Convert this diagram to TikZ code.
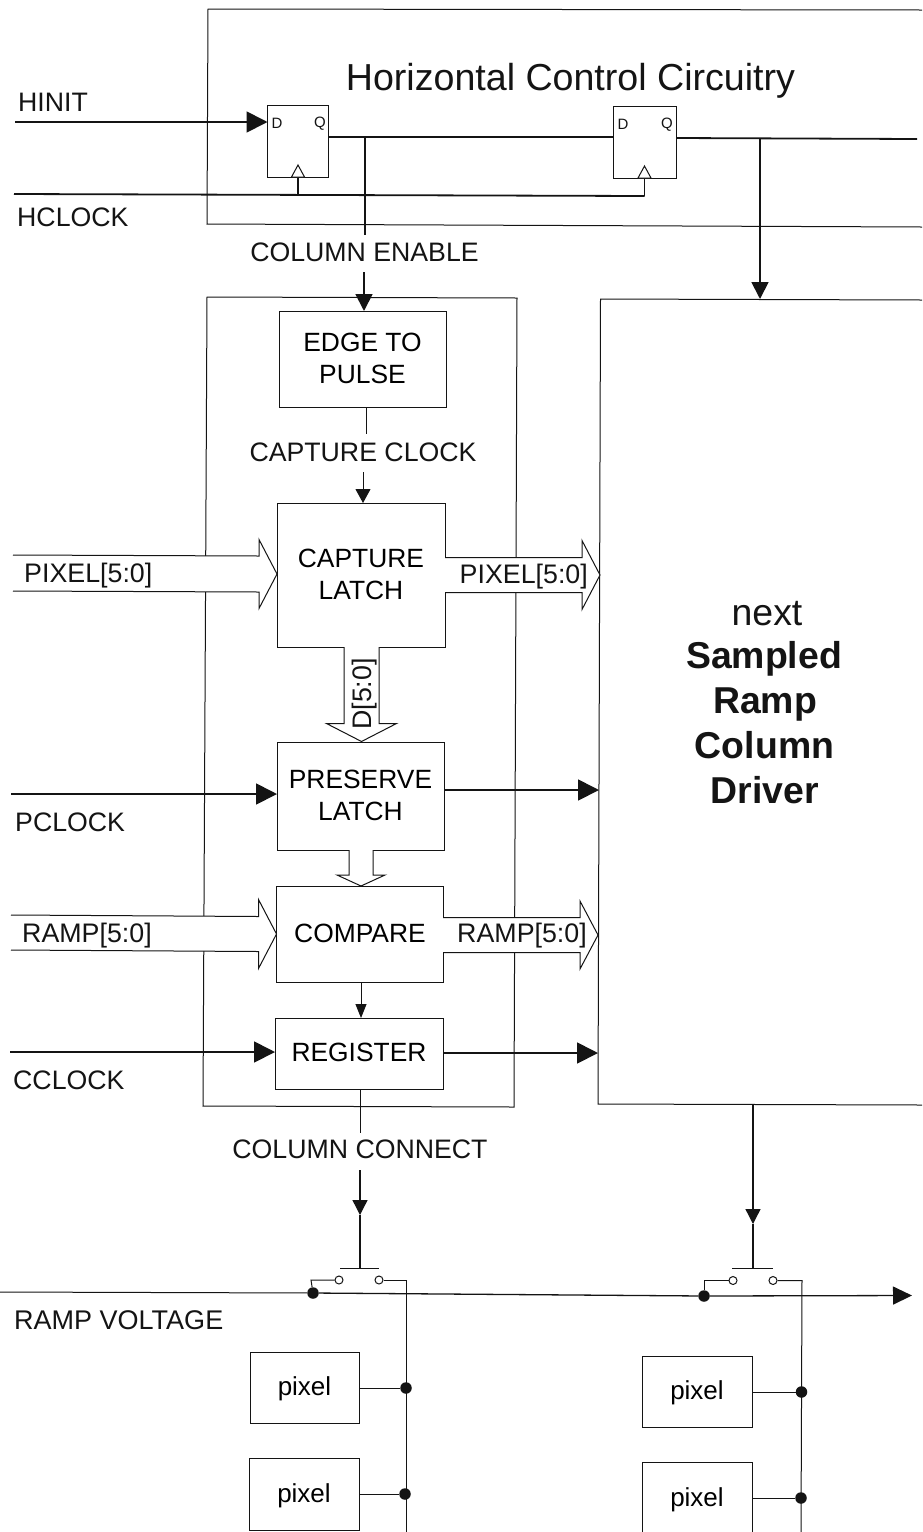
\documentclass[tikz,border=0pt]{standalone}
\usepackage{fontspec}
\setmainfont{Liberation Sans}
\usetikzlibrary{arrows.meta,calc}
\definecolor{ink}{HTML}{141414}
\tikzset{
  thin line/.style={draw=ink,line width=1pt},
  mid line/.style={draw=ink,line width=1.3pt},
  thick line/.style={draw=ink,line width=1.8pt},
  bigtip/.style={-{Triangle[length=21pt,width=21pt]}},
  midtip/.style={-{Triangle[length=17pt,width=17pt]}},
  lowtip/.style={-{Triangle[length=15pt,width=15pt]}},
  endtip/.style={-{Triangle[length=19pt,width=18pt]}},
  capturetip/.style={-{Triangle[length=14pt,width=15pt]}},
  regtip/.style={-{Triangle[length=14pt,width=11pt]}},
  block/.style={draw=ink,line width=1pt,fill=white,rectangle,inner sep=0pt,outer sep=0pt,align=center,font=\fontsize{26.4}{32}\selectfont},
  lab/.style={inner sep=0pt,font=\fontsize{26.7}{32}\selectfont,text=ink},
  widelab/.style={inner sep=0pt,font=\fontsize{27}{32}\selectfont,text=ink},
  buslab/.style={inner sep=0pt,font=\fontsize{26.8}{32}\selectfont,text=ink},
  drvlab/.style={inner sep=0pt,anchor=base,font=\fontsize{37.4}{44}\selectfont,text=ink},
  ffpin/.style={inner sep=0pt,font=\fontsize{15}{16}\selectfont,text=ink},
  bus/.style={draw=ink,line width=1pt,fill=white,line join=miter},
  solder/.style={circle,fill=ink,minimum size=11.5pt,inner sep=0pt},
  contact/.style={circle,draw=ink,line width=1pt,fill=white,minimum size=8pt,inner sep=0pt},
}
\newcommand{\pixtext}{\fontsize{26}{32}\selectfont\raisebox{0pt}[16pt][0pt]{pixel}}
% horizontal bus: tail, tip, half shaft, half head, head length
\newcommand{\hbus}[5]{\path[bus] let \p1=(#1),\p2=(#2) in
  (\x1,\y1+#3pt) -- (\x2-#5pt,\y2+#3pt) -- (\x2-#5pt,\y2+#4pt) -- (\x2,\y2) --
  (\x2-#5pt,\y2-#4pt) -- (\x2-#5pt,\y2-#3pt) -- (\x1,\y1-#3pt);}
% vertical bus going down
\newcommand{\vbus}[5]{\path[bus] let \p1=(#1),\p2=(#2) in
  (\x1-#3pt,\y1) -- (\x2-#3pt,\y2+#5pt) -- (\x2-#4pt,\y2+#5pt) -- (\x2,\y2) --
  (\x2+#4pt,\y2+#5pt) -- (\x2+#3pt,\y2+#5pt) -- (\x1+#3pt,\y1);}
\begin{document}
\begin{tikzpicture}[x=1pt,y=-1pt]
\useasboundingbox (0,0) rectangle (922,1532);
\fill[white] (0,0) rectangle (922,1532);

% large frames
\coordinate (hcR1) at (922,10);
\coordinate (hcL1) at (208,9);
\coordinate (hcL2) at (207,224);
\coordinate (hcR2) at (922,227);
\draw[thin line] (hcR1) -- (hcL1) -- (hcL2) -- (hcR2);
\coordinate (colTL) at (207,297);
\coordinate (colTR) at (517,298);
\coordinate (colBR) at (514,1107);
\coordinate (colBL) at (203,1106);
\draw[thin line] (colTL) -- (colTR) -- (colBR) -- (colBL) -- cycle;
\coordinate (srTR) at (922,300);
\coordinate (srTL) at (600.5,299);
\coordinate (srBL) at (598,1104);
\coordinate (srBR) at (922,1105);
\draw[thin line] (srTR) -- (srTL) -- (srBL) -- (srBR);

% title
\node[lab,font=\fontsize{37.6}{44}\selectfont] (title) at (570.5,80.5) {Horizontal Control Circuitry};

% flip flops
\node[block,minimum width=61pt,minimum height=72pt] (ff1) at (298,141) {};
\node[block,minimum width=63pt,minimum height=72pt] (ff2) at (644.5,142) {};
\node[ffpin] (d1) at (277,123.5) {D};
\node[ffpin] (q1) at (320,123.5) {Q};
\node[ffpin] (d2) at (623,124.5) {D};
\node[ffpin] (q2) at (667,124.5) {Q};

% signal labels
\node[lab,anchor=west] (hinit) at (18,102.5) {HINIT};
\node[lab,anchor=west] (hclock) at (17,217.5) {HCLOCK};
\node[lab] (colen) at (364.5,252.5) {COLUMN ENABLE};
\node[lab] (capclk) at (363,452.5) {CAPTURE CLOCK};
\node[lab,anchor=west] (pclock) at (15,822.5) {PCLOCK};
\node[lab,anchor=west] (cclock) at (13,1080.5) {CCLOCK};
\node[lab] (colcon) at (360,1149.5) {COLUMN CONNECT};
\node[widelab,anchor=west] (rampv) at (14,1320.5) {RAMP VOLTAGE};

% column blocks
\node[block,text depth=2pt,minimum width=167pt,minimum height=96pt] (edge) at (362.5,359) {EDGE TO\\PULSE};
\node[block,text depth=2pt,minimum width=168pt,minimum height=144pt] (capture) at (361,575) {CAPTURE\\LATCH};
\node[block,text depth=2pt,minimum width=167pt,minimum height=108pt] (preserve) at (360.5,796) {PRESERVE\\LATCH};
\node[block,text depth=2pt,minimum width=167pt,minimum height=96pt] (compare) at (360,934) {COMPARE};
\node[block,text depth=2pt,minimum width=168pt,minimum height=71pt] (register) at (359,1053.5) {REGISTER};

% driver text
\node[drvlab] (drv0) at (767,625) {next};
\node[drvlab] (drv1) at (764,668) {\textbf{Sampled}};
\node[drvlab] (drv2) at (765,713) {\textbf{Ramp}};
\node[drvlab] (drv3) at (764.5,758) {\textbf{Column}};
\node[drvlab] (drv4) at (765,803) {\textbf{Driver}};

% control wires
\coordinate (hinitS) at (15,122);
\coordinate (ff1D) at (ff1.west|-hinitS);
\draw[thick line,bigtip] (hinitS) -- (ff1D);
\coordinate (hclkS) at (14,194);
\coordinate (ff1ck) at (298,195);
\coordinate (ff2ck) at (644.5,196);
\draw[thick line] (hclkS) -- (ff2ck);
\draw[thick line] (ff1ck) -- (ff1.south);
\draw[thick line] (ff2ck) -- (ff2.south);
\path[bus] (ff1.south) ++(-6.5,0) -- ++(6.5,-12) -- ++(6.5,12) -- cycle;
\path[bus] (ff2.south) ++(-6.5,0) -- ++(6.5,-12) -- ++(6.5,12) -- cycle;
\coordinate (q1out) at (ff1.east|-0,137);
\coordinate (d2in) at (ff2.west|-0,137);
\coordinate (q2out) at (ff2.east|-0,138);
\coordinate (hcEnd) at (917,139);
\draw[thick line] (q1out) -- (d2in);
\draw[thick line] (q2out) -- (hcEnd);
\coordinate (entap) at (365,137);
\coordinate (enlow) at (365,235);
\coordinate (entop) at (364,272);
\coordinate (enend) at (edge.north-|entop);
\draw[thick line] (entap) -- (enlow);
\draw[thick line,midtip] (entop) -- (enend);
\coordinate (drtap) at (760,138);
\coordinate (drin) at (760,299);
\draw[thick line,midtip] (drtap) -- (drin);

\coordinate (capA) at (366,434);
\draw[thin line] (edge.south-|capA) -- (capA);
\coordinate (capB) at (363,472);
\draw[thin line,capturetip] (capB) -- (capB|-capture.north);

% buses
\coordinate (pixS) at (13,573);
\coordinate (pixE) at (capture.west|-0,574);
\hbus{pixS}{pixE}{18}{34.5}{18}
\coordinate (poS) at (445,575);
\coordinate (poE) at (600,575);
\hbus{poS}{poE}{17.5}{34.5}{18}
\coordinate (dS) at (361.5,647);
\coordinate (dE) at (361.5,741.5);
\vbus{dS}{dE}{17.5}{35}{18}
\coordinate (sS) at (361,850);
\coordinate (sE) at (361,886);
\vbus{sS}{sE}{12}{24}{11}
\coordinate (rS) at (11,932.5);
\coordinate (rE) at (compare.west);
\hbus{rS}{rE}{17.5}{34.5}{18}
\coordinate (roS) at (443,935);
\coordinate (roE) at (598,935);
\hbus{roS}{roE}{17.5}{34}{18}

\node[buslab,anchor=west] (pixl) at (24,575.7) {PIXEL[5:0]};
\node[buslab,anchor=west] (pixo) at (459.5,576.2) {PIXEL[5:0]};
\node[buslab,rotate=90] (dl) at (364.3,694) {D[5:0]};
\node[buslab,anchor=west] (rl) at (22,935.7) {RAMP[5:0]};
\node[buslab,anchor=west] (ro) at (457,935.7) {RAMP[5:0]};

% single wires in the column
\coordinate (pckS) at (11,794);
\draw[thick line,bigtip] (pckS) -- (preserve.west|-pckS);
\coordinate (ploE) at (599,790);
\draw[thick line,bigtip] (preserve.east|-ploE) -- (ploE);
\draw[thin line,regtip] (compare.south-|361,0) -- (register.north-|361,0);
\coordinate (cckS) at (10,1052);
\draw[thick line,bigtip] (cckS) -- (register.west|-cckS);
\coordinate (reoE) at (598,1053);
\draw[thick line,bigtip] (register.east|-reoE) -- (reoE);

% column connect
\coordinate (ccA) at (360,1133);
\draw[thin line] (register.south-|ccA) -- (ccA);
\coordinate (ccB) at (360,1170);
\coordinate (ccC) at (360,1215);
\coordinate (ccG) at (360,1268.5);
\draw[mid line,lowtip] (ccB) -- (ccC);
\draw[mid line] (ccC) -- (ccG);
\coordinate (g1L) at (340,1268.5);
\coordinate (g1R) at (379,1268.5);
\draw[thin line] (g1L) -- (g1R);

\coordinate (dvA) at (753,1104);
\coordinate (dvB) at (753,1224);
\coordinate (dvG) at (753,1268);
\draw[mid line,lowtip] (dvA) -- (dvB);
\draw[mid line] (dvB) -- (dvG);
\coordinate (g2L) at (732,1268);
\coordinate (g2R) at (773,1268);
\draw[thin line] (g2L) -- (g2R);

% ramp voltage line
\coordinate (rvS) at (0,1292);
\coordinate (rvE) at (912,1295.5);
\node[solder] (j1) at (313,1293) {};
\node[solder] (j2) at (704,1296) {};
\draw[thin line] (rvS) -- (j1);
\draw[mid line] (j1) -- (j2);
\draw[mid line,endtip] (j2) -- (rvE);

% switches
\node[contact] (c1a) at (339,1280) {};
\node[contact] (c1b) at (379,1280) {};
\node[contact] (c2a) at (733,1280.5) {};
\node[contact] (c2b) at (773,1280.5) {};
\coordinate (b1a) at (311,1280);
\coordinate (b2a) at (704,1280.5);
\coordinate (b1b) at (406,1280);
\coordinate (b2b) at (802,1280.5);
\coordinate (bus1E) at (406,1532);
\coordinate (bus2E) at (801,1532);
\draw[thin line] (j1) -- (b1a) -- (c1a);
\draw[thin line] (j2) -- (b2a) -- (c2a);
\draw[thin line] (c1b) -- (b1b) -- (bus1E);
\draw[thin line] (c2b) -- (b2b) -- (bus2E);

% pixels
\node[block,minimum width=109pt,minimum height=71pt] (p1) at (304.5,1387.5) {\pixtext};
\node[block,minimum width=110pt,minimum height=72pt] (p2) at (304,1494) {\pixtext};
\node[block,minimum width=110pt,minimum height=71pt] (p3) at (697,1391.5) {\pixtext};
\node[block,minimum width=110pt,minimum height=72pt] (p4) at (697,1498) {\pixtext};
\node[solder] (s1) at (406,1388) {};
\node[solder] (s2) at (405,1494) {};
\node[solder] (s3) at (801.5,1392) {};
\node[solder] (s4) at (801,1498) {};
\draw[thin line] (p1.east|-s1) -- (s1);
\draw[thin line] (p2.east|-s2) -- (s2);
\draw[thin line] (p3.east|-s3) -- (s3);
\draw[thin line] (p4.east|-s4) -- (s4);
\end{tikzpicture}
\end{document}
